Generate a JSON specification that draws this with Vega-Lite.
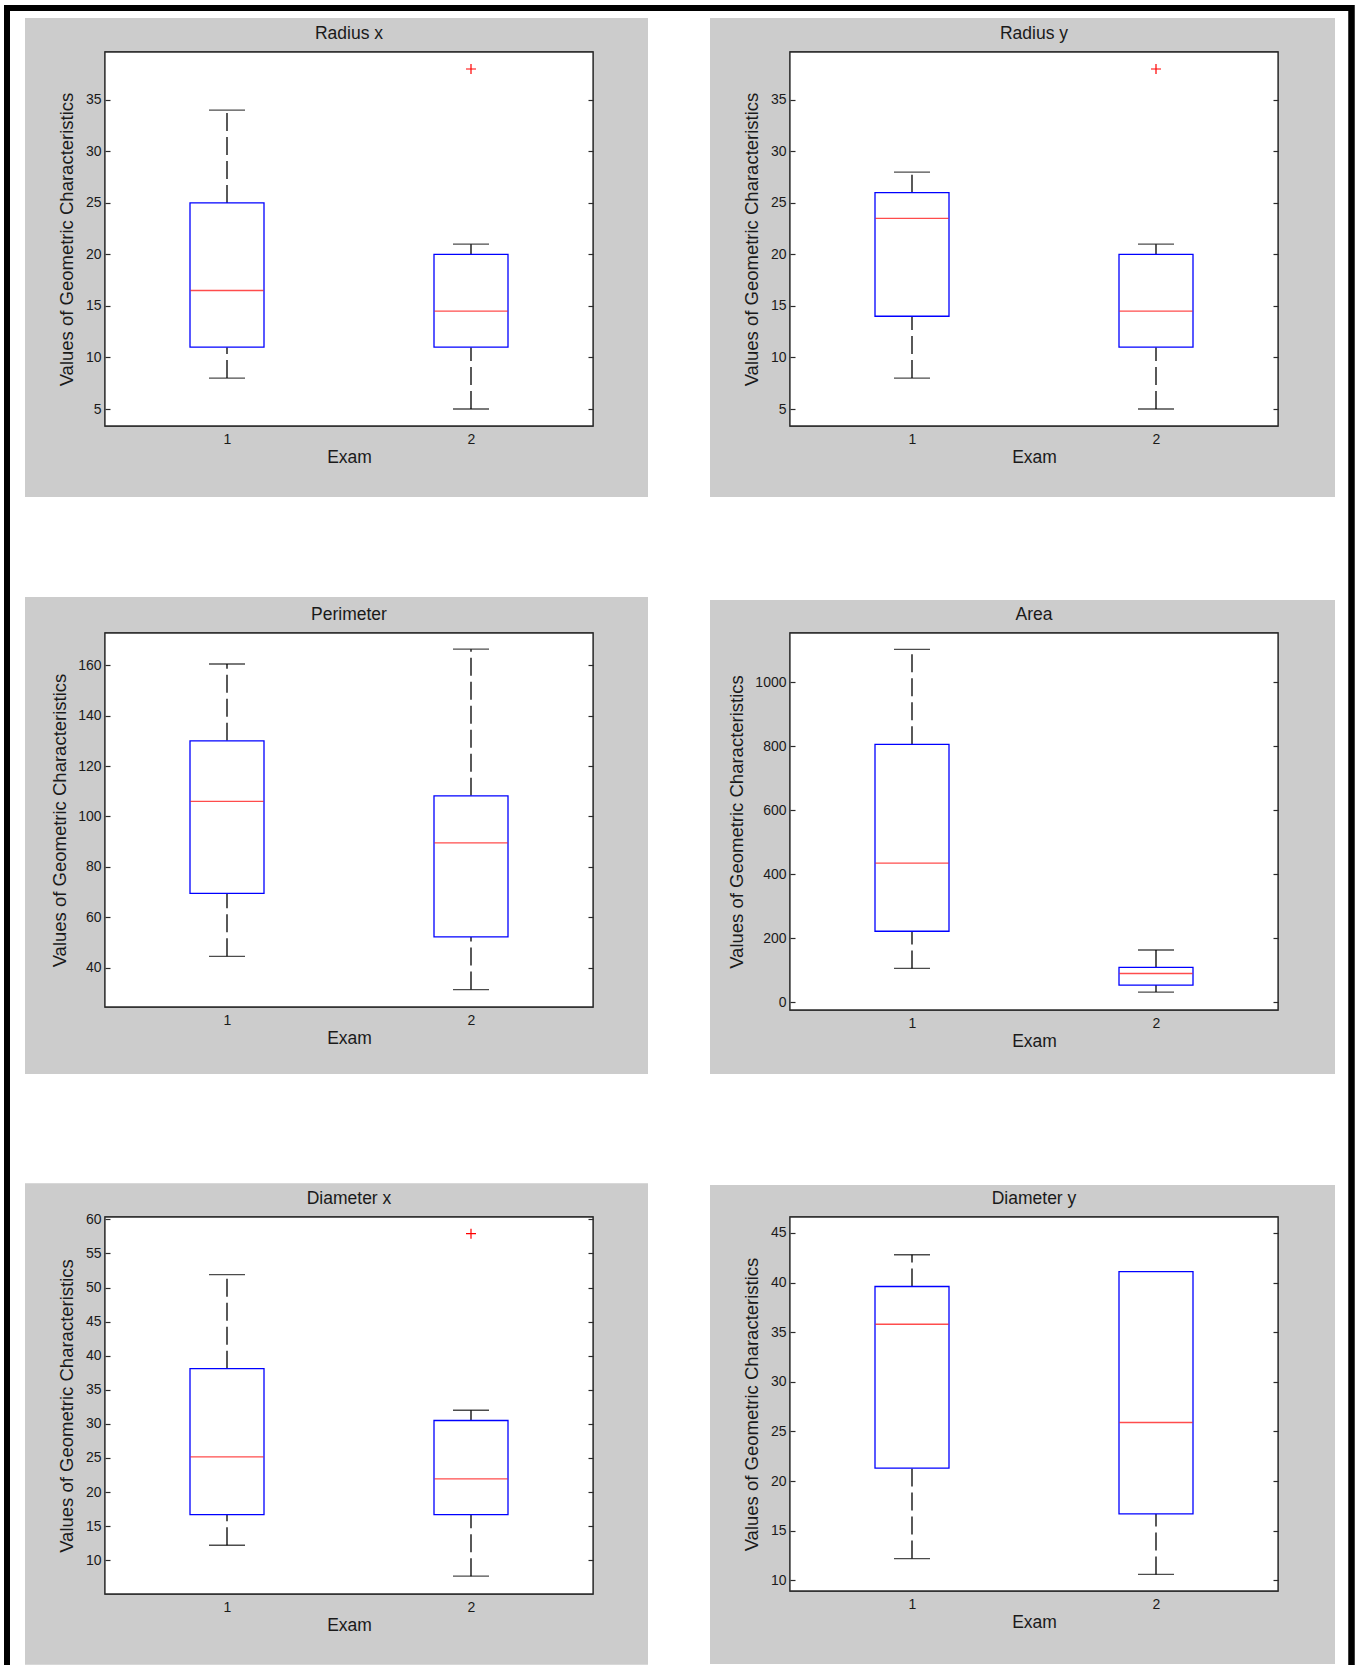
{
 "$schema": "https://vega.github.io/schema/vega-lite/v6.json",
 "background": "white",
 "padding": {"left": 1, "top": 1, "right": 0, "bottom": 0},
 "columns": 2,
 "spacing": {"row": 207, "column": 197},
 "bounds": "flush",
 "datasets": {
  "boxes": [
   {"metric": "Radius x", "exam": 1, "min": 8, "q1": 11, "median": 16.5, "q3": 25, "max": 34},
   {"metric": "Radius x", "exam": 2, "min": 5, "q1": 11, "median": 14.5, "q3": 20, "max": 21},
   {"metric": "Radius y", "exam": 1, "min": 8, "q1": 14, "median": 23.5, "q3": 26, "max": 28},
   {"metric": "Radius y", "exam": 2, "min": 5, "q1": 11, "median": 14.5, "q3": 20, "max": 21},
   {"metric": "Perimeter", "exam": 1, "min": 44.5, "q1": 69.5, "median": 106, "q3": 130, "max": 160.5},
   {"metric": "Perimeter", "exam": 2, "min": 31.3, "q1": 52.2, "median": 89.5, "q3": 108.2, "max": 166.4},
   {"metric": "Area", "exam": 1, "min": 106, "q1": 222, "median": 435, "q3": 806, "max": 1103},
   {"metric": "Area", "exam": 2, "min": 32, "q1": 54, "median": 90, "q3": 109, "max": 163.5},
   {"metric": "Diameter x", "exam": 1, "min": 12.2, "q1": 16.7, "median": 25.15, "q3": 38.1, "max": 51.9},
   {"metric": "Diameter x", "exam": 2, "min": 7.66, "q1": 16.7, "median": 21.95, "q3": 30.5, "max": 32},
   {"metric": "Diameter y", "exam": 1, "min": 12.2, "q1": 21.3, "median": 35.8, "q3": 39.6, "max": 42.8},
   {"metric": "Diameter y", "exam": 2, "min": 10.6, "q1": 16.7, "median": 25.9, "q3": 41.1, "max": 41.1}
  ],
  "outliers": [
   {"metric": "Radius x", "exam": 2, "value": 38},
   {"metric": "Radius y", "exam": 2, "value": 38},
   {"metric": "Diameter x", "exam": 2, "value": 57.9}
  ]
 },
 "concat": [
  {
   "width": 488, "height": 374,
   "title": {"text": "Radius x", "offset": -40.1},
   "data": {"name": "boxes"},
   "transform": [{"filter": "datum.metric === 'Radius x'"}],
   "resolve": {"axis": {"x": "independent", "y": "independent"}},
   "layer": [
    {"mark": {"type": "rect", "fill": "#cccccc"},
     "encoding": {
      "x": {"datum": 0.1721, "type": "quantitative", "scale": {"domain": [0.5, 2.5], "nice": false, "zero": false, "padding": 0}, "axis": null},
      "x2": {"datum": 2.7254},
      "y": {"datum": -3.541, "type": "quantitative", "scale": {"domain": [3.35, 39.65], "nice": false, "zero": false, "padding": 0}, "axis": null},
      "y2": {"datum": 42.95}}},
    {"mark": {"type": "rule", "color": "black", "strokeWidth": 6, "strokeCap": "butt"},
     "encoding": {"x": {"datum": 0.086066, "type": "quantitative", "axis": null}, "x2": {"datum": 5.614754}, "y": {"datum": 43.920588, "type": "quantitative", "axis": null}}},
    {"mark": {"type": "rule", "color": "black", "strokeWidth": 6, "strokeCap": "butt"},
     "encoding": {"x": {"datum": 0.098361, "type": "quantitative", "axis": null}, "y": {"datum": 44.211765, "type": "quantitative", "axis": null}, "y2": {"datum": -116.90588}}},
    {"mark": {"type": "rule", "color": "black", "strokeWidth": 6, "strokeCap": "butt"},
     "encoding": {"x": {"datum": 5.608607, "type": "quantitative", "axis": null}, "y": {"datum": 44.211765, "type": "quantitative", "axis": null}, "y2": {"datum": -116.90588}}},
    {"mark": {"type": "rect", "fill": "white", "stroke": "#2b2b2b", "strokeWidth": 1.3},
     "encoding": {
      "x": {"datum": 0.5, "type": "quantitative", "axis": null},
      "x2": {"datum": 2.5},
      "y": {"datum": 3.35, "type": "quantitative", "axis": {"values": [5, 10, 15, 20, 25, 30, 35], "title": "Values of Geometric Characteristics", "orient": "left", "tickSize": -5, "labelPadding": 9, "titlePadding": 8.5, "zindex": 1}},
      "y2": {"datum": 39.65}}},
    {"mark": {"type": "rule", "color": "black", "strokeDash": [18, 6], "strokeWidth": 1.3},
     "encoding": {"x": {"field": "exam", "type": "quantitative", "axis": null}, "y": {"field": "q3", "type": "quantitative", "axis": null}, "y2": {"field": "max"}}},
    {"mark": {"type": "rule", "color": "black", "strokeDash": [18, 6], "strokeWidth": 1.3},
     "encoding": {"x": {"field": "exam", "type": "quantitative", "axis": null}, "y": {"field": "min", "type": "quantitative", "axis": null}, "y2": {"field": "q1"}}},
    {"mark": {"type": "tick", "orient": "horizontal", "color": "black", "size": 36, "thickness": 1.3},
     "encoding": {"x": {"field": "exam", "type": "quantitative", "axis": null}, "y": {"field": "max", "type": "quantitative", "axis": null}}},
    {"mark": {"type": "tick", "orient": "horizontal", "color": "black", "size": 36, "thickness": 1.3},
     "encoding": {"x": {"field": "exam", "type": "quantitative", "axis": null}, "y": {"field": "min", "type": "quantitative", "axis": null}}},
    {"mark": {"type": "bar", "width": 74, "fill": "white", "stroke": "#0000ff", "strokeWidth": 1.3},
     "encoding": {"x": {"field": "exam", "type": "quantitative", "axis": {"orient": "bottom", "values": [1, 2], "title": "Exam", "ticks": false, "labelPadding": 6, "titlePadding": 2, "zindex": 1}}, "y": {"field": "q1", "type": "quantitative", "axis": null}, "y2": {"field": "q3"}}},
    {"mark": {"type": "tick", "orient": "horizontal", "color": "#ff0000", "size": 73, "thickness": 1.3},
     "encoding": {"x": {"field": "exam", "type": "quantitative", "axis": null}, "y": {"field": "median", "type": "quantitative", "axis": {"orient": "right", "values": [5, 10, 15, 20, 25, 30, 35], "labels": false, "tickSize": -5, "title": null, "zindex": 1}}}},
    {"data": {"name": "outliers"}, "transform": [{"filter": "datum.metric === 'Radius x'"}],
     "mark": {"type": "point", "shape": "M-1,0L1,0M0,-1L0,1", "size": 100, "stroke": "#ff0000", "strokeWidth": 1.2, "filled": false, "opacity": 1},
     "encoding": {"x": {"field": "exam", "type": "quantitative", "axis": null}, "y": {"field": "value", "type": "quantitative", "axis": null}}}
   ]
  },
  {
   "width": 488, "height": 374,
   "title": {"text": "Radius y", "offset": -24.1},
   "data": {"name": "boxes"},
   "transform": [{"filter": "datum.metric === 'Radius y'"}],
   "resolve": {"axis": {"x": "independent", "y": "independent"}},
   "layer": [
    {"mark": {"type": "rect", "fill": "#cccccc"},
     "encoding": {
      "x": {"datum": 0.1721, "type": "quantitative", "scale": {"domain": [0.5, 2.5], "nice": false, "zero": false, "padding": 0}, "axis": null},
      "x2": {"datum": 2.7336},
      "y": {"datum": -3.541, "type": "quantitative", "scale": {"domain": [3.35, 39.65], "nice": false, "zero": false, "padding": 0}, "axis": null},
      "y2": {"datum": 42.95}}},
    {"mark": {"type": "rect", "fill": "white", "stroke": "#2b2b2b", "strokeWidth": 1.3},
     "encoding": {
      "x": {"datum": 0.5, "type": "quantitative", "axis": null},
      "x2": {"datum": 2.5},
      "y": {"datum": 3.35, "type": "quantitative", "axis": {"values": [5, 10, 15, 20, 25, 30, 35], "title": "Values of Geometric Characteristics", "orient": "left", "tickSize": -5, "labelPadding": 9, "titlePadding": 8.5, "zindex": 1}},
      "y2": {"datum": 39.65}}},
    {"mark": {"type": "rule", "color": "black", "strokeDash": [18, 6], "strokeWidth": 1.3},
     "encoding": {"x": {"field": "exam", "type": "quantitative", "axis": null}, "y": {"field": "q3", "type": "quantitative", "axis": null}, "y2": {"field": "max"}}},
    {"mark": {"type": "rule", "color": "black", "strokeDash": [18, 6], "strokeWidth": 1.3},
     "encoding": {"x": {"field": "exam", "type": "quantitative", "axis": null}, "y": {"field": "min", "type": "quantitative", "axis": null}, "y2": {"field": "q1"}}},
    {"mark": {"type": "tick", "orient": "horizontal", "color": "black", "size": 36, "thickness": 1.3},
     "encoding": {"x": {"field": "exam", "type": "quantitative", "axis": null}, "y": {"field": "max", "type": "quantitative", "axis": null}}},
    {"mark": {"type": "tick", "orient": "horizontal", "color": "black", "size": 36, "thickness": 1.3},
     "encoding": {"x": {"field": "exam", "type": "quantitative", "axis": null}, "y": {"field": "min", "type": "quantitative", "axis": null}}},
    {"mark": {"type": "bar", "width": 74, "fill": "white", "stroke": "#0000ff", "strokeWidth": 1.3},
     "encoding": {"x": {"field": "exam", "type": "quantitative", "axis": {"orient": "bottom", "values": [1, 2], "title": "Exam", "ticks": false, "labelPadding": 6, "titlePadding": 2, "zindex": 1}}, "y": {"field": "q1", "type": "quantitative", "axis": null}, "y2": {"field": "q3"}}},
    {"mark": {"type": "tick", "orient": "horizontal", "color": "#ff0000", "size": 73, "thickness": 1.3},
     "encoding": {"x": {"field": "exam", "type": "quantitative", "axis": null}, "y": {"field": "median", "type": "quantitative", "axis": {"orient": "right", "values": [5, 10, 15, 20, 25, 30, 35], "labels": false, "tickSize": -5, "title": null, "zindex": 1}}}},
    {"data": {"name": "outliers"}, "transform": [{"filter": "datum.metric === 'Radius y'"}],
     "mark": {"type": "point", "shape": "M-1,0L1,0M0,-1L0,1", "size": 100, "stroke": "#ff0000", "strokeWidth": 1.2, "filled": false, "opacity": 1},
     "encoding": {"x": {"field": "exam", "type": "quantitative", "axis": null}, "y": {"field": "value", "type": "quantitative", "axis": null}}}
   ]
  },
  {
   "width": 488, "height": 374,
   "title": {"text": "Perimeter", "offset": -26.1},
   "data": {"name": "boxes"},
   "transform": [{"filter": "datum.metric === 'Perimeter'"}],
   "resolve": {"axis": {"x": "independent", "y": "independent"}},
   "layer": [
    {"mark": {"type": "rect", "fill": "#cccccc"},
     "encoding": {
      "x": {"datum": 0.1721, "type": "quantitative", "scale": {"domain": [0.5, 2.5], "nice": false, "zero": false, "padding": 0}, "axis": null},
      "x2": {"datum": 2.7254},
      "y": {"datum": -2.185, "type": "quantitative", "scale": {"domain": [24.4, 172.8], "nice": false, "zero": false, "padding": 0}, "axis": null},
      "y2": {"datum": 187.0845}}},
    {"mark": {"type": "rect", "fill": "white", "stroke": "#2b2b2b", "strokeWidth": 1.3},
     "encoding": {
      "x": {"datum": 0.5, "type": "quantitative", "axis": null},
      "x2": {"datum": 2.5},
      "y": {"datum": 24.4, "type": "quantitative", "axis": {"values": [40, 60, 80, 100, 120, 140, 160], "title": "Values of Geometric Characteristics", "orient": "left", "tickSize": -5, "labelPadding": 9, "titlePadding": 8.5, "zindex": 1}},
      "y2": {"datum": 172.8}}},
    {"mark": {"type": "rule", "color": "black", "strokeDash": [18, 6], "strokeWidth": 1.3},
     "encoding": {"x": {"field": "exam", "type": "quantitative", "axis": null}, "y": {"field": "q3", "type": "quantitative", "axis": null}, "y2": {"field": "max"}}},
    {"mark": {"type": "rule", "color": "black", "strokeDash": [18, 6], "strokeWidth": 1.3},
     "encoding": {"x": {"field": "exam", "type": "quantitative", "axis": null}, "y": {"field": "min", "type": "quantitative", "axis": null}, "y2": {"field": "q1"}}},
    {"mark": {"type": "tick", "orient": "horizontal", "color": "black", "size": 36, "thickness": 1.3},
     "encoding": {"x": {"field": "exam", "type": "quantitative", "axis": null}, "y": {"field": "max", "type": "quantitative", "axis": null}}},
    {"mark": {"type": "tick", "orient": "horizontal", "color": "black", "size": 36, "thickness": 1.3},
     "encoding": {"x": {"field": "exam", "type": "quantitative", "axis": null}, "y": {"field": "min", "type": "quantitative", "axis": null}}},
    {"mark": {"type": "bar", "width": 74, "fill": "white", "stroke": "#0000ff", "strokeWidth": 1.3},
     "encoding": {"x": {"field": "exam", "type": "quantitative", "axis": {"orient": "bottom", "values": [1, 2], "title": "Exam", "ticks": false, "labelPadding": 6, "titlePadding": 2, "zindex": 1}}, "y": {"field": "q1", "type": "quantitative", "axis": null}, "y2": {"field": "q3"}}},
    {"mark": {"type": "tick", "orient": "horizontal", "color": "#ff0000", "size": 73, "thickness": 1.3},
     "encoding": {"x": {"field": "exam", "type": "quantitative", "axis": null}, "y": {"field": "median", "type": "quantitative", "axis": {"orient": "right", "values": [40, 60, 80, 100, 120, 140, 160], "labels": false, "tickSize": -5, "title": null, "zindex": 1}}}}
   ]
  },
  {
   "width": 488, "height": 377,
   "title": {"text": "Area", "offset": -23.1},
   "data": {"name": "boxes"},
   "transform": [{"filter": "datum.metric === 'Area'"}],
   "resolve": {"axis": {"x": "independent", "y": "independent"}},
   "layer": [
    {"mark": {"type": "rect", "fill": "#cccccc"},
     "encoding": {
      "x": {"datum": 0.1721, "type": "quantitative", "scale": {"domain": [0.5, 2.5], "nice": false, "zero": false, "padding": 0}, "axis": null},
      "x2": {"datum": 2.7336},
      "y": {"datum": -223.979, "type": "quantitative", "scale": {"domain": [-24, 1154], "nice": false, "zero": false, "padding": 0}, "axis": null},
      "y2": {"datum": 1257.114}}},
    {"mark": {"type": "rect", "fill": "white", "stroke": "#2b2b2b", "strokeWidth": 1.3},
     "encoding": {
      "x": {"datum": 0.5, "type": "quantitative", "axis": null},
      "x2": {"datum": 2.5},
      "y": {"datum": -24, "type": "quantitative", "axis": {"values": [0, 200, 400, 600, 800, 1000], "format": "d", "title": "Values of Geometric Characteristics", "orient": "left", "tickSize": -5, "labelPadding": 9, "titlePadding": 8.5, "zindex": 1}},
      "y2": {"datum": 1154}}},
    {"mark": {"type": "rule", "color": "black", "strokeDash": [18, 6], "strokeWidth": 1.3},
     "encoding": {"x": {"field": "exam", "type": "quantitative", "axis": null}, "y": {"field": "q3", "type": "quantitative", "axis": null}, "y2": {"field": "max"}}},
    {"mark": {"type": "rule", "color": "black", "strokeDash": [18, 6], "strokeWidth": 1.3},
     "encoding": {"x": {"field": "exam", "type": "quantitative", "axis": null}, "y": {"field": "min", "type": "quantitative", "axis": null}, "y2": {"field": "q1"}}},
    {"mark": {"type": "tick", "orient": "horizontal", "color": "black", "size": 36, "thickness": 1.3},
     "encoding": {"x": {"field": "exam", "type": "quantitative", "axis": null}, "y": {"field": "max", "type": "quantitative", "axis": null}}},
    {"mark": {"type": "tick", "orient": "horizontal", "color": "black", "size": 36, "thickness": 1.3},
     "encoding": {"x": {"field": "exam", "type": "quantitative", "axis": null}, "y": {"field": "min", "type": "quantitative", "axis": null}}},
    {"mark": {"type": "bar", "width": 74, "fill": "white", "stroke": "#0000ff", "strokeWidth": 1.3},
     "encoding": {"x": {"field": "exam", "type": "quantitative", "axis": {"orient": "bottom", "values": [1, 2], "title": "Exam", "ticks": false, "labelPadding": 6, "titlePadding": 2, "zindex": 1}}, "y": {"field": "q1", "type": "quantitative", "axis": null}, "y2": {"field": "q3"}}},
    {"mark": {"type": "tick", "orient": "horizontal", "color": "#ff0000", "size": 73, "thickness": 1.3},
     "encoding": {"x": {"field": "exam", "type": "quantitative", "axis": null}, "y": {"field": "median", "type": "quantitative", "axis": {"orient": "right", "values": [0, 200, 400, 600, 800, 1000], "labels": false, "tickSize": -5, "title": null, "zindex": 1}}}}
   ]
  },
  {
   "width": 488, "height": 377,
   "title": {"text": "Diameter x", "offset": -23.6},
   "data": {"name": "boxes"},
   "transform": [{"filter": "datum.metric === 'Diameter x'"}],
   "resolve": {"axis": {"x": "independent", "y": "independent"}},
   "layer": [
    {"mark": {"type": "rect", "fill": "#cccccc"},
     "encoding": {
      "x": {"datum": 0.1721, "type": "quantitative", "scale": {"domain": [0.5, 2.5], "nice": false, "zero": false, "padding": 0}, "axis": null},
      "x2": {"datum": 2.7254},
      "y": {"datum": -5.291, "type": "quantitative", "scale": {"domain": [5.05, 60.35], "nice": false, "zero": false, "padding": 0}, "axis": null},
      "y2": {"datum": 65.264}}},
    {"mark": {"type": "rect", "fill": "white", "stroke": "#2b2b2b", "strokeWidth": 1.3},
     "encoding": {
      "x": {"datum": 0.5, "type": "quantitative", "axis": null},
      "x2": {"datum": 2.5},
      "y": {"datum": 5.05, "type": "quantitative", "axis": {"values": [10, 15, 20, 25, 30, 35, 40, 45, 50, 55, 60], "title": "Values of Geometric Characteristics", "orient": "left", "tickSize": -5, "labelPadding": 9, "titlePadding": 8.5, "zindex": 1}},
      "y2": {"datum": 60.35}}},
    {"mark": {"type": "rule", "color": "black", "strokeDash": [18, 6], "strokeWidth": 1.3},
     "encoding": {"x": {"field": "exam", "type": "quantitative", "axis": null}, "y": {"field": "q3", "type": "quantitative", "axis": null}, "y2": {"field": "max"}}},
    {"mark": {"type": "rule", "color": "black", "strokeDash": [18, 6], "strokeWidth": 1.3},
     "encoding": {"x": {"field": "exam", "type": "quantitative", "axis": null}, "y": {"field": "min", "type": "quantitative", "axis": null}, "y2": {"field": "q1"}}},
    {"mark": {"type": "tick", "orient": "horizontal", "color": "black", "size": 36, "thickness": 1.3},
     "encoding": {"x": {"field": "exam", "type": "quantitative", "axis": null}, "y": {"field": "max", "type": "quantitative", "axis": null}}},
    {"mark": {"type": "tick", "orient": "horizontal", "color": "black", "size": 36, "thickness": 1.3},
     "encoding": {"x": {"field": "exam", "type": "quantitative", "axis": null}, "y": {"field": "min", "type": "quantitative", "axis": null}}},
    {"mark": {"type": "bar", "width": 74, "fill": "white", "stroke": "#0000ff", "strokeWidth": 1.3},
     "encoding": {"x": {"field": "exam", "type": "quantitative", "axis": {"orient": "bottom", "values": [1, 2], "title": "Exam", "ticks": false, "labelPadding": 6, "titlePadding": 2, "zindex": 1}}, "y": {"field": "q1", "type": "quantitative", "axis": null}, "y2": {"field": "q3"}}},
    {"mark": {"type": "tick", "orient": "horizontal", "color": "#ff0000", "size": 73, "thickness": 1.3},
     "encoding": {"x": {"field": "exam", "type": "quantitative", "axis": null}, "y": {"field": "median", "type": "quantitative", "axis": {"orient": "right", "values": [10, 15, 20, 25, 30, 35, 40, 45, 50, 55, 60], "labels": false, "tickSize": -5, "title": null, "zindex": 1}}}},
    {"data": {"name": "outliers"}, "transform": [{"filter": "datum.metric === 'Diameter x'"}],
     "mark": {"type": "point", "shape": "M-1,0L1,0M0,-1L0,1", "size": 100, "stroke": "#ff0000", "strokeWidth": 1.2, "filled": false, "opacity": 1},
     "encoding": {"x": {"field": "exam", "type": "quantitative", "axis": null}, "y": {"field": "value", "type": "quantitative", "axis": null}}}
   ]
  },
  {
   "width": 488, "height": 374,
   "title": {"text": "Diameter y", "offset": -22.1},
   "data": {"name": "boxes"},
   "transform": [{"filter": "datum.metric === 'Diameter y'"}],
   "resolve": {"axis": {"x": "independent", "y": "independent"}},
   "layer": [
    {"mark": {"type": "rect", "fill": "#cccccc"},
     "encoding": {
      "x": {"datum": 0.1721, "type": "quantitative", "scale": {"domain": [0.5, 2.5], "nice": false, "zero": false, "padding": 0}, "axis": null},
      "x2": {"datum": 2.7336},
      "y": {"datum": 1.577, "type": "quantitative", "scale": {"domain": [8.93, 46.6], "nice": false, "zero": false, "padding": 0}, "axis": null},
      "y2": {"datum": 49.823}}},
    {"mark": {"type": "rect", "fill": "white", "stroke": "#2b2b2b", "strokeWidth": 1.3},
     "encoding": {
      "x": {"datum": 0.5, "type": "quantitative", "axis": null},
      "x2": {"datum": 2.5},
      "y": {"datum": 8.93, "type": "quantitative", "axis": {"values": [10, 15, 20, 25, 30, 35, 40, 45], "title": "Values of Geometric Characteristics", "orient": "left", "tickSize": -5, "labelPadding": 9, "titlePadding": 8.5, "zindex": 1}},
      "y2": {"datum": 46.6}}},
    {"mark": {"type": "rule", "color": "black", "strokeDash": [18, 6], "strokeWidth": 1.3},
     "encoding": {"x": {"field": "exam", "type": "quantitative", "axis": null}, "y": {"field": "q3", "type": "quantitative", "axis": null}, "y2": {"field": "max"}}},
    {"mark": {"type": "rule", "color": "black", "strokeDash": [18, 6], "strokeWidth": 1.3},
     "encoding": {"x": {"field": "exam", "type": "quantitative", "axis": null}, "y": {"field": "min", "type": "quantitative", "axis": null}, "y2": {"field": "q1"}}},
    {"mark": {"type": "tick", "orient": "horizontal", "color": "black", "size": 36, "thickness": 1.3},
     "encoding": {"x": {"field": "exam", "type": "quantitative", "axis": null}, "y": {"field": "max", "type": "quantitative", "axis": null}}},
    {"mark": {"type": "tick", "orient": "horizontal", "color": "black", "size": 36, "thickness": 1.3},
     "encoding": {"x": {"field": "exam", "type": "quantitative", "axis": null}, "y": {"field": "min", "type": "quantitative", "axis": null}}},
    {"mark": {"type": "bar", "width": 74, "fill": "white", "stroke": "#0000ff", "strokeWidth": 1.3},
     "encoding": {"x": {"field": "exam", "type": "quantitative", "axis": {"orient": "bottom", "values": [1, 2], "title": "Exam", "ticks": false, "labelPadding": 6, "titlePadding": 2, "zindex": 1}}, "y": {"field": "q1", "type": "quantitative", "axis": null}, "y2": {"field": "q3"}}},
    {"mark": {"type": "tick", "orient": "horizontal", "color": "#ff0000", "size": 73, "thickness": 1.3},
     "encoding": {"x": {"field": "exam", "type": "quantitative", "axis": null}, "y": {"field": "median", "type": "quantitative", "axis": {"orient": "right", "values": [10, 15, 20, 25, 30, 35, 40, 45], "labels": false, "tickSize": -5, "title": null, "zindex": 1}}}}
   ]
  }
 ],
 "config": {
  "font": "Liberation Sans",
  "view": {"stroke": null},
  "axis": {"grid": false, "domain": false, "labelFontSize": 14, "labelColor": "#1a1a1a", "titleFontSize": 18.5, "titleFontWeight": "normal", "titleColor": "#1a1a1a", "tickColor": "#2b2b2b", "tickWidth": 1.2},
  "axisX": {"titleFontSize": 17.5},
  "title": {"fontSize": 17.5, "fontWeight": "normal", "color": "#1a1a1a", "frame": "group", "baseline": "alphabetic", "anchor": "middle"}
 }
}
